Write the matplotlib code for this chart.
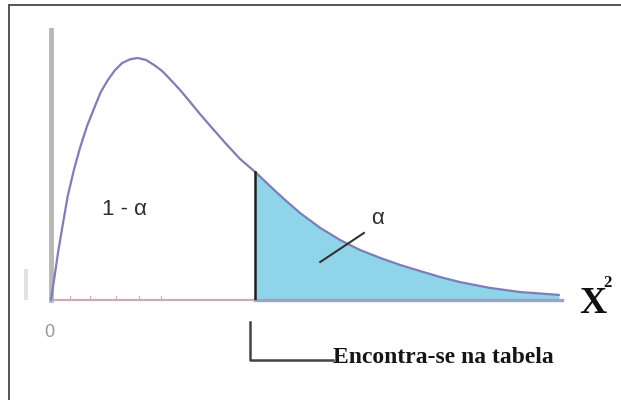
import matplotlib
matplotlib.use('Agg')
import matplotlib.pyplot as plt
from matplotlib.lines import Line2D

# curve (x in chi-square units, y as density relative to the peak)
chi_x = [0.0, 0.06, 0.14, 0.24, 0.33, 0.45, 0.57, 0.71, 0.85, 0.98, 1.12, 1.26,
         1.40, 1.56, 1.71, 1.87, 2.03, 2.19, 2.34, 2.54, 2.74, 2.93, 3.17, 3.43,
         3.72, 4.02, 4.31, 4.61, 4.90, 5.30, 5.69, 6.08, 6.48, 6.87, 7.26, 7.66,
         8.05, 8.64, 9.23, 10.0]
density = [0.0, 0.083, 0.198, 0.322, 0.430, 0.537, 0.628, 0.719, 0.793, 0.860,
           0.909, 0.950, 0.979, 0.995, 1.000, 0.992, 0.971, 0.946, 0.913, 0.868,
           0.818, 0.769, 0.711, 0.649, 0.583, 0.529, 0.471, 0.413, 0.360, 0.298,
           0.248, 0.207, 0.174, 0.145, 0.120, 0.095, 0.074, 0.050, 0.033, 0.021]
critical = 4.02
minor_ticks = [0.37, 0.77, 1.28, 1.73, 2.17]

fig = plt.figure(figsize=(6.21, 4.0), dpi=100)
ax = fig.add_axes([51 / 621, 100 / 400, 508 / 621, 242 / 400])
ax.set_xlim(0, 10)
ax.set_ylim(0, 1)
ax.axis('off')

# shaded tail
tail_x = [x for x in chi_x if x >= critical]
tail_y = [y for x, y in zip(chi_x, density) if x >= critical]
ax.fill_between(tail_x, 0, tail_y, color='#8fd4e8', lw=0, zorder=1)

# baseline: pinkish left part, grey-blue under the tail
ax.plot([0, critical], [0, 0], color='#cfaab4', lw=1.6, clip_on=False, zorder=2)
ax.plot([critical, 10.05], [0, 0], color='#9aa6bf', lw=2.4, clip_on=False, zorder=2)
for t in minor_ticks:
    ax.plot([t, t], [0, 0.016], color='#c9b0bb', lw=0.9, clip_on=False)

# vertical axis
ax.plot([0, 0], [0, 1.116], color='#b8b8b8', lw=3.5, clip_on=False, zorder=2)
ax.plot([-0.49, -0.49], [0.008, 0.12], color='#e2e2e2', lw=3, clip_on=False)

# density curve
ax.plot(chi_x, density, color='#7d7db8', lw=1.6, clip_on=False, zorder=3,
        solid_joinstyle='round', solid_capstyle='round')

# critical value line
ax.plot([critical, critical], [0, density[chi_x.index(critical)]],
        color='#1e1e1e', lw=1.8, zorder=4)

# labels
ax.text(1.44, 0.376, '1 - α', fontsize=16, color='#2e2e2e', family='Liberation Sans',
        ha='center', va='center')
ax.text(6.42, 0.335, 'α', fontsize=16, color='#2e2e2e', family='Liberation Sans',
        ha='center', va='center')
ax.plot([5.30, 6.16], [0.157, 0.277], color='#333333', lw=1.5, zorder=4)
ax.text(-0.04, -0.136, '0', fontsize=13, color='#999999', family='Liberation Sans',
        ha='center', va='center')

ax.text(10.39, -0.054, 'X', fontsize=27, fontweight='bold', family='Liberation Serif',
        color='#111111', ha='left', va='baseline')
ax.text(10.88, 0.054, '2', fontsize=12, fontweight='bold', family='Liberation Serif',
        color='#111111', ha='left', va='baseline')

# bracket to the table note
ax.plot([3.92, 3.92, 5.55], [-0.09, -0.248, -0.248], color='#444444', lw=1.8,
        clip_on=False)
ax.text(5.55, -0.26, 'Encontra-se na tabela', fontsize=17, fontweight='bold',
        family='Liberation Serif', color='#151515', ha='left', va='baseline')

# frame of the original image (top and left edges only)
fig.add_artist(Line2D([9 / 621, 1.0], [1 - 5 / 400, 1 - 5 / 400],
                      transform=fig.transFigure, color='#555555', lw=1.4))
fig.add_artist(Line2D([9 / 621, 9 / 621], [0.0, 1 - 5 / 400],
                      transform=fig.transFigure, color='#555555', lw=1.4))

fig.savefig('out.png', dpi=100, facecolor='white')
